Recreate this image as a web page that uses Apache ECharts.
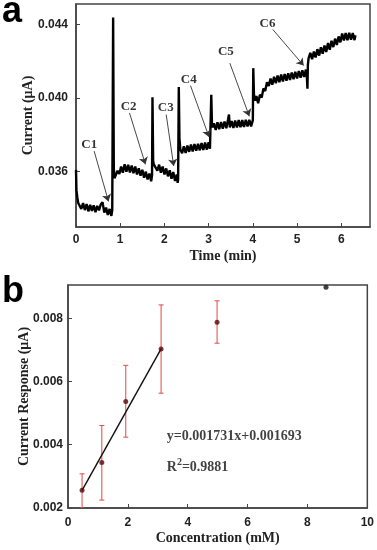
<!DOCTYPE html>
<html><head><meta charset="utf-8">
<script src="https://cdn.jsdelivr.net/npm/echarts@6/dist/echarts.min.js"></script>
<style>html,body{margin:0;padding:0;background:#fff}#c{width:377px;height:550px}</style>
</head><body><div id="c"></div>
<script>
// ---------- Panel a: amperometric trace ----------
const traceTime = [
0.00,0.01,0.03,0.05,0.08,0.12,0.16,0.20,0.24,0.28,0.32,0.36,0.40,0.44,0.48,0.52,0.56,0.60,0.64,0.68,0.72,0.76,0.80,0.82,
0.835,0.84,0.855,0.87,
0.90,0.94,0.98,1.02,1.06,1.10,1.14,1.18,1.22,1.26,1.30,1.34,1.38,1.42,1.46,1.50,1.54,1.58,1.62,1.66,1.70,1.72,
1.73,1.745,1.76,
1.80,1.84,1.88,1.92,1.96,2.00,2.04,2.08,2.12,2.16,2.20,2.24,2.28,2.30,
2.31,2.325,2.34,2.36,
2.40,2.44,2.48,2.52,2.56,2.60,2.64,2.68,2.72,2.76,2.80,2.84,2.88,2.92,2.96,3.00,3.03,
3.06,3.075,3.09,
3.12,3.16,3.20,3.24,3.28,3.32,3.36,3.40,3.44,3.46,3.48,3.52,3.56,3.60,3.64,3.68,3.72,3.76,3.80,3.84,3.88,3.92,3.96,4.00,
4.01,4.025,4.05,
4.08,4.12,4.16,4.20,4.24,4.28,4.32,4.36,4.40,4.44,4.48,4.52,4.56,4.60,4.64,4.68,4.72,4.76,4.80,4.84,4.88,4.92,4.96,5.00,5.04,5.08,5.12,5.16,5.20,5.22,
5.235,5.245,5.26,
5.30,5.34,5.38,5.42,5.46,5.50,5.54,5.58,5.62,5.66,5.70,5.74,5.78,5.82,5.86,5.90,5.94,5.98,6.02,6.06,6.10,6.14,6.18,6.22,6.26,6.30,6.32
];
const traceCurrent = [
0.03610,0.03500,0.03460,0.03430,0.03440,0.03398,0.03430,0.03392,0.03425,0.03385,0.03420,0.03388,0.03418,0.03380,0.03415,0.03390,0.03422,0.03435,0.03378,0.03405,0.03365,0.03398,0.03360,0.03392,
0.03390,0.04437,0.03620,0.03565,
0.03570,0.03605,0.03588,0.03628,0.03595,0.03640,0.03600,0.03638,0.03596,0.03634,0.03592,0.03628,0.03585,0.03618,0.03578,0.03610,0.03568,0.03600,0.03558,0.03590,0.03548,0.03580,
0.04004,0.03660,0.03640,
0.03645,0.03605,0.03638,0.03595,0.03628,0.03585,0.03618,0.03575,0.03608,0.03562,0.03598,0.03550,0.03585,0.03540,
0.03560,0.04060,0.03780,0.03720,
0.03700,0.03738,0.03702,0.03742,0.03708,0.03748,0.03710,0.03750,0.03714,0.03752,0.03716,0.03755,0.03718,0.03758,0.03720,0.03760,0.03725,
0.04018,0.03860,0.03840,
0.03862,0.03826,0.03868,0.03830,0.03870,0.03833,0.03872,0.03836,0.03885,0.03910,0.03840,0.03875,0.03838,0.03878,0.03840,0.03880,0.03842,0.03880,0.03843,0.03882,0.03845,0.03882,0.03846,0.03880,
0.04162,0.04020,0.03985,
0.04010,0.03972,0.04018,0.04002,0.04052,0.04038,0.04085,0.04065,0.04105,0.04072,0.04115,0.04080,0.04122,0.04086,0.04127,0.04090,0.04130,0.04094,0.04134,0.04098,0.04138,0.04102,0.04142,0.04106,0.04146,0.04110,0.04150,0.04114,0.04154,0.04125,
0.04050,0.04180,0.04215,
0.04245,0.04210,0.04252,0.04220,0.04265,0.04230,0.04275,0.04240,0.04285,0.04250,0.04298,0.04262,0.04310,0.04276,0.04322,0.04288,0.04334,0.04302,0.04350,0.04312,0.04352,0.04314,0.04354,0.04316,0.04352,0.04314,0.04340
];
const annoNames = ['C1','C2','C3','C4','C5','C6'];
const annoLabelT = [0.30,1.19,2.03,2.55,3.39,4.33];
const annoLabelV = [0.03748,0.03951,0.03946,0.04099,0.04252,0.04401];
const arrowStartT = [0.41,1.21,2.04,2.59,3.48,4.45];
const arrowStartV = [0.03712,0.03919,0.03910,0.04067,0.04189,0.04372];
const arrowTipT = [0.735,1.57,2.21,3.01,3.92,5.15];
const arrowTipV = [0.03439,0.03640,0.03631,0.03788,0.03901,0.04176];
const aXTicks = [0,1,2,3,4,5,6];
const aYTicks = [0.036,0.040,0.044];

// ---------- Panel b: calibration ----------
const concentration = [0.47,1.13,1.93,3.11,4.98,8.62];
const response = [0.00256,0.00344,0.00537,0.00703,0.00787,0.00898];
const errLow = [0.00200,0.00225,0.00424,0.00563,0.00721,null];
const errHigh = [0.00308,0.00461,0.00651,0.00842,0.00855,null];
const fitX = [0.47,3.11];
const fitY = [0.00256,0.00703];
const bXTicks = [0,2,4,6,8,10];
const bYTicks = [0.002,0.004,0.006,0.008];

const serifBold = {fontFamily:'Liberation Serif', fontWeight:'bold'};
const tickFont = {fontFamily:'Liberation Sans', fontWeight:'bold', fontSize:12, color:'#222'};

const chart = echarts.init(document.getElementById('c'), null, {renderer:'canvas'});

const traceData = traceTime.map((t,i)=>[t,traceCurrent[i]]);
const annoData = annoNames.map((n,i)=>({value:[annoLabelT[i],annoLabelV[i]], name:n}));
const arrowLines = annoNames.map((n,i)=>[{coord:[arrowStartT[i],arrowStartV[i]]},{coord:[arrowTipT[i],arrowTipV[i]]}]);
const ptsData = concentration.map((c,i)=>({value:[c,response[i]], itemStyle:{color: i===5?'#111':'#5a0808'}}));
const errData = [];
concentration.forEach((c,i)=>{ if(errLow[i]!==null) errData.push([c,errLow[i],errHigh[i]]); });
const fitData = fitX.map((x,i)=>[x,fitY[i]]);

function axisBase(){
  return {
    axisLine:{show:true,onZero:false,lineStyle:{color:'#444',width:1.5}},
    splitLine:{show:false},
  };
}

const option = {
  animation:false,
  backgroundColor:'#fff',
  grid:[
    {left:76,top:4,right:7,bottom:323,show:true,borderColor:'#444',borderWidth:1.5,containLabel:false},
    {left:68,top:285,right:9,bottom:42,show:true,borderColor:'#444',borderWidth:1.5,containLabel:false}
  ],
  xAxis:[
    Object.assign(axisBase(),{type:'value',gridIndex:0,min:0,max:6.65,
      axisTick:{show:true,inside:true,length:4,customValues:aXTicks,lineStyle:{color:'#444'}},
      axisLabel:Object.assign({margin:7,customValues:aXTicks,formatter:v=>String(v)},tickFont),
      name:'Time (min)',nameLocation:'middle',nameGap:22,
      nameTextStyle:Object.assign({fontSize:14,color:'#222'},serifBold)}),
    Object.assign(axisBase(),{type:'value',gridIndex:1,min:0,max:10,
      axisTick:{show:true,inside:true,length:4,customValues:bXTicks,lineStyle:{color:'#444'}},
      axisLabel:Object.assign({margin:9,customValues:bXTicks,formatter:v=>String(v)},tickFont),
      name:'Concentration (mM)',nameLocation:'middle',nameGap:23,
      nameTextStyle:Object.assign({fontSize:14,color:'#222'},serifBold)})
  ],
  yAxis:[
    Object.assign(axisBase(),{type:'value',gridIndex:0,min:0.0330,max:0.0451,
      axisTick:{show:true,inside:true,length:4,customValues:aYTicks,lineStyle:{color:'#444'}},
      axisLabel:Object.assign({margin:8,customValues:aYTicks,formatter:v=>v.toFixed(3)},tickFont),
      name:'Current (μA)',nameLocation:'middle',nameGap:41,nameRotate:90,nameMoveOverlap:false,
      nameTextStyle:Object.assign({fontSize:14,color:'#222'},serifBold)}),
    Object.assign(axisBase(),{type:'value',gridIndex:1,min:0.002,max:0.00905,
      axisTick:{show:true,inside:true,length:4,customValues:bYTicks,lineStyle:{color:'#444'}},
      axisLabel:Object.assign({margin:5,customValues:bYTicks,formatter:v=>v.toFixed(3)},tickFont),
      name:'Current Response (μA)',nameLocation:'middle',nameGap:37,nameRotate:90,nameMoveOverlap:false,
      nameTextStyle:Object.assign({fontSize:14,color:'#222'},serifBold)})
  ],
  series:[
    {type:'line',xAxisIndex:0,yAxisIndex:0,data:traceData,showSymbol:false,symbol:'none',
     lineStyle:{color:'#000',width:2.4},
     markLine:{silent:true,symbol:['none','arrow'],symbolSize:7,
       lineStyle:{color:'#333',width:0.9,type:'solid'},label:{show:false},
       emphasis:{disabled:true},data:arrowLines}},
    {type:'scatter',xAxisIndex:0,yAxisIndex:0,data:annoData,symbolSize:0,silent:true,
     label:Object.assign({show:true,position:'inside',formatter:p=>p.name,fontSize:13,color:'#000'},serifBold)},
    {type:'custom',xAxisIndex:1,yAxisIndex:1,data:errData,clip:true,
     renderItem:(params,api)=>{
       const x=api.value(0),lo=api.value(1),hi=api.value(2);
       const pT=api.coord([x,hi]),pB=api.coord([x,lo]);
       const w=2.5, st={stroke:'#e04848',lineWidth:1};
       return {type:'group',children:[
         {type:'line',shape:{x1:pT[0],y1:pT[1],x2:pB[0],y2:pB[1]},style:st},
         {type:'line',shape:{x1:pT[0]-w,y1:pT[1],x2:pT[0]+w,y2:pT[1]},style:st},
         {type:'line',shape:{x1:pB[0]-w,y1:pB[1],x2:pB[0]+w,y2:pB[1]},style:st}
       ]};
     }},
    {type:'line',xAxisIndex:1,yAxisIndex:1,data:fitData,showSymbol:false,symbol:'none',
     lineStyle:{color:'#111',width:1.4}},
    {type:'scatter',xAxisIndex:1,yAxisIndex:1,data:ptsData,symbolSize:5,z:5},
    {type:'scatter',xAxisIndex:1,yAxisIndex:1,symbolSize:0,silent:true,
     data:[{value:[3.3,0.00425],name:'eq'},{value:[3.3,0.00329],name:'r2'}],
     label:{show:true,position:'right',distance:0,
       formatter:p=>p.name==='eq'?'{t|y=0.001731x+0.001693}':'{t|R}{s|2}{t|=0.9881}',
       rich:{t:Object.assign({fontSize:14,lineHeight:20,color:'#111'},serifBold),
             s:Object.assign({fontSize:10,lineHeight:10,color:'#111',verticalAlign:'top'},serifBold)}}}
  ],
  graphic:[
    {type:'text',left:2,top:-6,style:{text:'a',font:'bold 36px "Liberation Sans"',fill:'#000'}},
    {type:'text',left:2,top:274,style:{text:'b',font:'bold 36px "Liberation Sans"',fill:'#000'}}
  ]
};
chart.setOption(option);
</script></body></html>
